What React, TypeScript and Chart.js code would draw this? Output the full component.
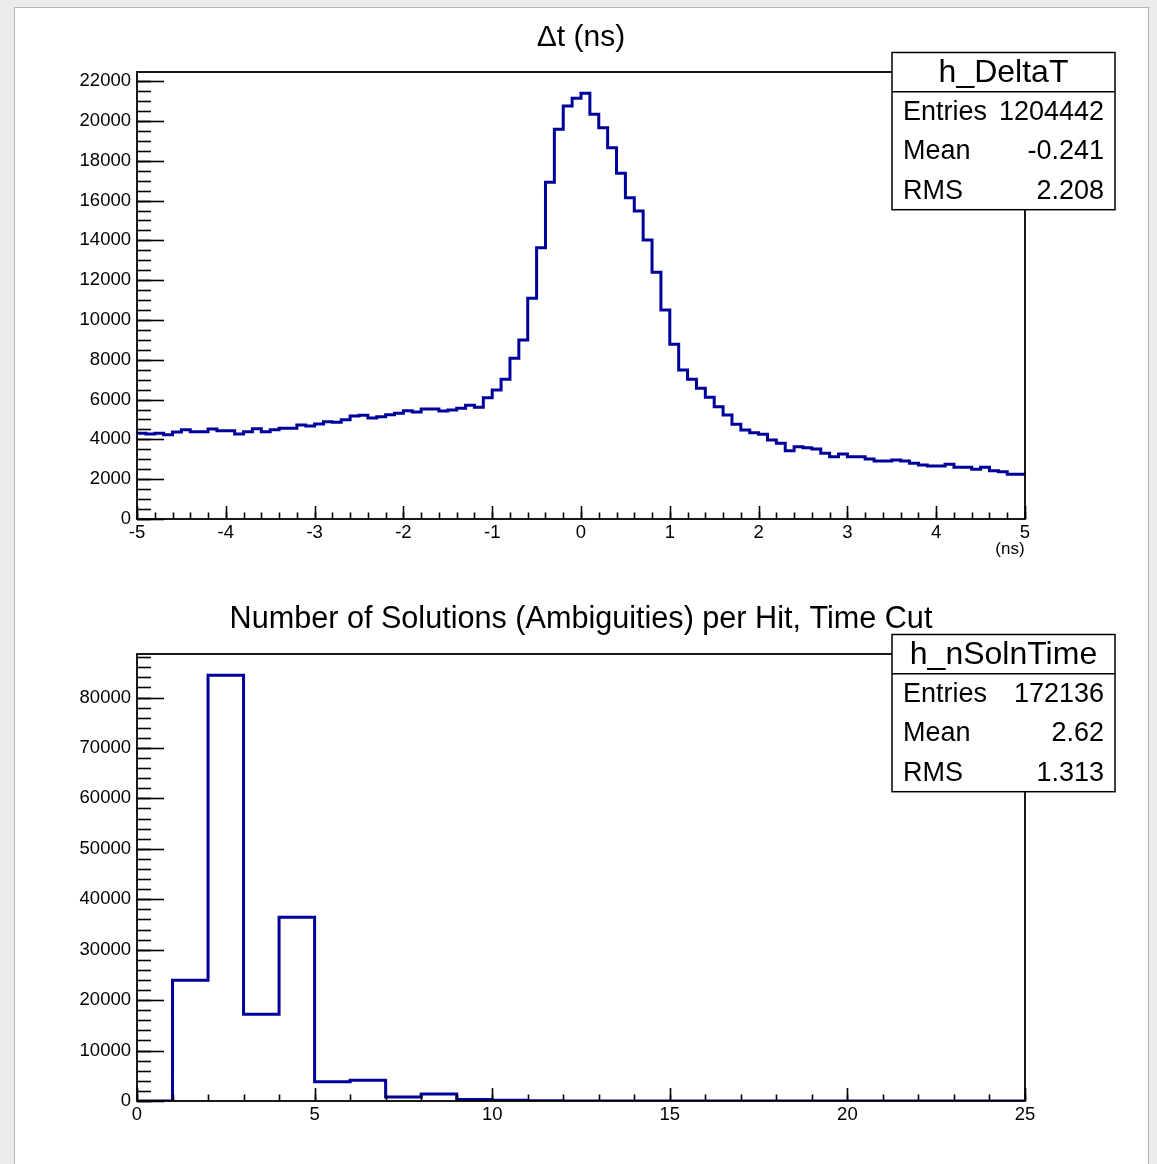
import React, { useEffect, useRef } from 'react';
import { Chart, registerables } from 'chart.js';

Chart.register(...registerables);

// ---------- Data ----------
const dtTitle = 'Δt (ns)';
const dtName = 'h_DeltaT';
const dtBinLow = -5;
const dtBinHigh = 5;
const dtCounts = [
  4305, 4271, 4305, 4238, 4372, 4489, 4389, 4389, 4523, 4439,
  4439, 4271, 4389, 4539, 4389, 4489, 4556, 4556, 4724, 4673,
  4774, 4891, 4858, 4992, 5176, 5209, 5075, 5142, 5243, 5310,
  5444, 5377, 5528, 5528, 5427, 5477, 5561, 5712, 5611, 6097,
  6482, 7018, 8074, 8995, 11089, 13635, 16918, 19581, 20753, 21139,
  21390, 20335, 19665, 18660, 17370, 16147, 15477, 14020, 12395, 10502,
  8777, 7487, 7018, 6566, 6114, 5645, 5226, 4757, 4472, 4338,
  4254, 3970, 3802, 3434, 3635, 3584, 3518, 3300, 3132, 3266,
  3132, 3132, 3015, 2915, 2915, 2965, 2915, 2797, 2714, 2663,
  2663, 2747, 2596, 2596, 2496, 2596, 2429, 2379, 2245, 2245,
];
const dtStats = [
  ['Entries', '1204442'],
  ['Mean', '-0.241'],
  ['RMS', '2.208'],
];
const dtYMax = 22460;
const dtYStep = 2000;
const dtYMinor = 500;
const dtXStep = 1;
const dtXMinor = 0.2;
const dtXUnit = '(ns)';

const nsTitle = 'Number of Solutions (Ambiguities) per Hit, Time Cut';
const nsName = 'h_nSolnTime';
const nsBinLow = 0;
const nsBinHigh = 25;
const nsCounts = [
  0, 23930, 84410, 17190, 36420, 3834, 4098, 793, 1388, 300,
  150, 60, 20, 10, 5, 0, 0, 0, 0, 0,
  0, 0, 0, 0, 0,
];
const nsStats = [
  ['Entries', '172136'],
  ['Mean', '2.62'],
  ['RMS', '1.313'],
];
const nsYMax = 88630;
const nsYStep = 10000;
const nsYMinor = 2000;
const nsXStep = 5;
const nsXMinor = 1;

// ---------- Style ----------
const FONT = '"Liberation Sans", Arial, Helvetica, sans-serif';
const LINE_BLUE = '#00009a';
const W = 1157;
const H = 582;

function histPoints(counts: number[], lo: number, hi: number) {
  const w = (hi - lo) / counts.length;
  const pts = counts.map((v, i) => ({ x: lo + i * w, y: v }));
  pts.push({ x: hi, y: counts[counts.length - 1] });
  return pts;
}

function stepTicks(min: number, max: number, step: number) {
  const out: { value: number }[] = [];
  const k0 = Math.ceil(min / step - 1e-9);
  const k1 = Math.floor(max / step + 1e-9);
  for (let k = k0; k <= k1; k++) out.push({ value: Math.round(k * step * 1e6) / 1e6 });
  return out;
}

const rootPlugin = {
  id: 'rootDecor',
  afterDraw(chart: any, _args: any, opts: any) {
    const { ctx, chartArea: a, scales } = chart;
    const xs = scales.x;
    const ys = scales.y;
    ctx.save();
    ctx.strokeStyle = '#000';
    ctx.lineWidth = 1.6;
    const drawY = (step: number, len: number) => {
      stepTicks(ys.min, ys.max, step).forEach((t) => {
        const py = Math.round(ys.getPixelForValue(t.value)) + 0.5;
        ctx.beginPath();
        ctx.moveTo(a.left, py);
        ctx.lineTo(a.left + len, py);
        ctx.stroke();
      });
    };
    const drawX = (step: number, len: number) => {
      stepTicks(xs.min, xs.max, step).forEach((t) => {
        const px = Math.round(xs.getPixelForValue(t.value)) + 0.5;
        ctx.beginPath();
        ctx.moveTo(px, a.bottom);
        ctx.lineTo(px, a.bottom - len);
        ctx.stroke();
      });
    };
    drawY(opts.yMinor, 14);
    drawY(opts.yStep, 27);
    drawX(opts.xMinor, 6.5);
    drawX(opts.xStep, 13);
    ctx.lineWidth = 1.8;
    ctx.strokeRect(a.left, a.top, a.right - a.left, a.bottom - a.top);

    ctx.fillStyle = '#000';
    ctx.font = `${opts.titleSize}px ${FONT}`;
    ctx.textAlign = 'center';
    ctx.textBaseline = 'middle';
    ctx.fillText(opts.title, (a.left + a.right) / 2, 38);

    if (opts.unit) {
      ctx.font = `17px ${FONT}`;
      ctx.textAlign = 'center';
      ctx.fillText(opts.unit, 1010, 549);
    }

    const bx = 892, by = 52.5, bw = 223, rowH = 39.3;
    const bh = rowH * 4;
    ctx.fillStyle = '#fff';
    ctx.fillRect(bx, by, bw, bh);
    ctx.lineWidth = 1.5;
    ctx.strokeStyle = '#000';
    ctx.strokeRect(bx, by, bw, bh);
    ctx.beginPath();
    ctx.moveTo(bx, by + rowH);
    ctx.lineTo(bx + bw, by + rowH);
    ctx.stroke();
    ctx.fillStyle = '#000';
    ctx.font = `32px ${FONT}`;
    ctx.textAlign = 'center';
    ctx.fillText(opts.name, bx + bw / 2, by + rowH / 2 + 1);
    ctx.font = `27px ${FONT}`;
    opts.stats.forEach((row: string[], i: number) => {
      const cy = by + rowH * (i + 1) + rowH / 2 + 1;
      ctx.textAlign = 'left';
      ctx.fillText(row[0], bx + 11, cy);
      ctx.textAlign = 'right';
      ctx.fillText(row[1], bx + bw - 11, cy);
    });
    ctx.restore();
  },
};

function makeConfig(p: any): any {
  return {
    type: 'line',
    data: {
      datasets: [
        {
          data: histPoints(p.counts, p.lo, p.hi),
          stepped: 'before',
          borderColor: LINE_BLUE,
          borderWidth: 3,
          pointRadius: 0,
          fill: false,
          tension: 0,
        },
      ],
    },
    options: {
      animation: false,
      responsive: false,
      maintainAspectRatio: false,
      layout: { padding: { left: 0, right: W - 1025, top: 72, bottom: 23 } },
      plugins: {
        legend: { display: false },
        tooltip: { enabled: false },
        title: { display: false },
        rootDecor: {
          title: p.title,
          titleSize: p.titleSize,
          name: p.name,
          stats: p.stats,
          unit: p.unit,
          yStep: p.yStep,
          yMinor: p.yMinor,
          xStep: p.xStep,
          xMinor: p.xMinor,
        },
      },
      scales: {
        x: {
          type: 'linear',
          min: p.lo,
          max: p.hi,
          grid: { display: false, drawTicks: false },
          border: { display: false },
          ticks: {
            autoSkip: false,
            maxRotation: 0,
            padding: 3,
            color: '#000',
            font: { family: FONT, size: 18.5 },
            callback: (v: number) => String(v),
          },
          afterBuildTicks: (s: any) => {
            s.ticks = stepTicks(p.lo, p.hi, p.xStep);
          },
          afterFit: (s: any) => {
            s.height = 40;
          },
        },
        y: {
          type: 'linear',
          min: 0,
          max: p.yMax,
          grid: { display: false, drawTicks: false },
          border: { display: false },
          ticks: {
            autoSkip: false,
            padding: 6,
            color: '#000',
            font: { family: FONT, size: 18.5 },
            callback: (v: number) => String(v),
          },
          afterBuildTicks: (s: any) => {
            s.ticks = stepTicks(0, p.yMax, p.yStep);
          },
          afterFit: (s: any) => {
            s.width = 137;
          },
        },
      },
    },
    plugins: [rootPlugin],
  };
}

function HistCanvas({ params, top }: { params: any; top: number }) {
  const ref = useRef<HTMLCanvasElement>(null);
  useEffect(() => {
    if (!ref.current) return;
    const chart = new Chart(ref.current, makeConfig(params));
    return () => chart.destroy();
  }, []);
  return (
    <canvas
      ref={ref}
      width={W}
      height={H}
      style={{ position: 'absolute', left: 0, top, width: W, height: H }}
    />
  );
}

export default function App() {
  const dtParams = {
    title: dtTitle, titleSize: 30, name: dtName, stats: dtStats, unit: dtXUnit,
    counts: dtCounts, lo: dtBinLow, hi: dtBinHigh, yMax: dtYMax,
    yStep: dtYStep, yMinor: dtYMinor, xStep: dtXStep, xMinor: dtXMinor,
  };
  const nsParams = {
    title: nsTitle, titleSize: 30.6, name: nsName, stats: nsStats, unit: '',
    counts: nsCounts, lo: nsBinLow, hi: nsBinHigh, yMax: nsYMax,
    yStep: nsYStep, yMinor: nsYMinor, xStep: nsXStep, xMinor: nsXMinor,
  };
  return (
    <div
      style={{
        position: 'fixed', left: 0, top: 0, width: W, height: 1164,
        background: '#ebebeb', overflow: 'hidden',
      }}
    >
      <div
        style={{
          position: 'absolute', left: 14, top: 7, width: 1133, height: 1200,
          background: '#fff', border: '1px solid #b4b4b4',
        }}
      />
      <HistCanvas params={dtParams} top={0} />
      <HistCanvas params={nsParams} top={582} />
    </div>
  );
}
